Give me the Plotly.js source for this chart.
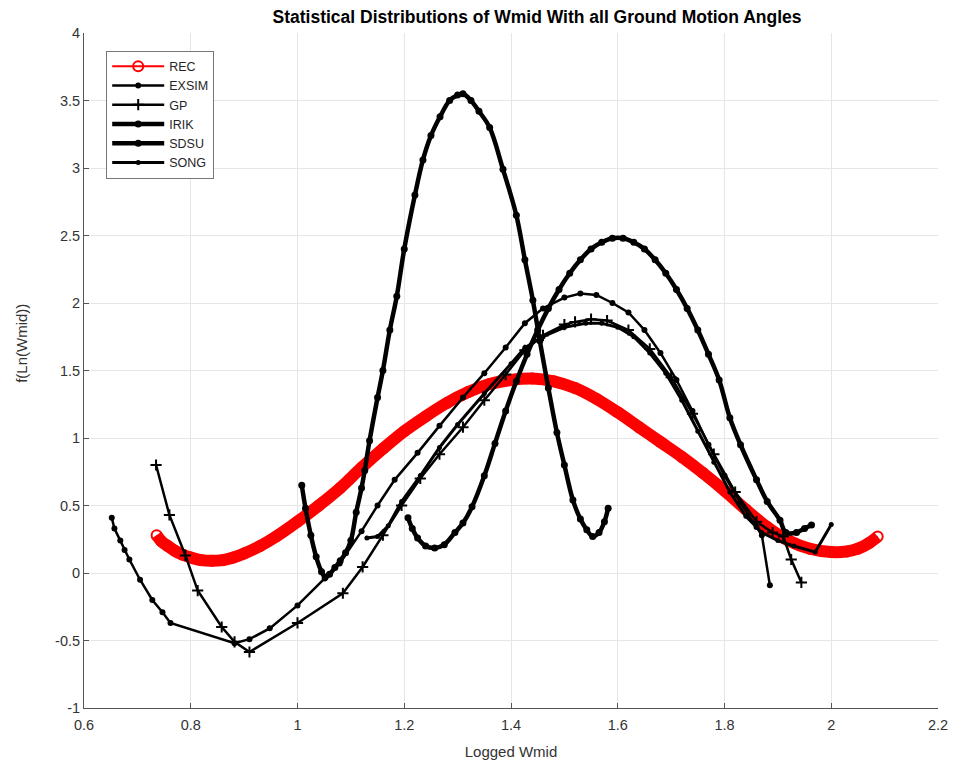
<!DOCTYPE html>
<html>
<head>
<meta charset="utf-8">
<script src="https://cdn.plot.ly/plotly-3.0.1.min.js"></script>
<style>html,body{margin:0;padding:0;background:#fff;}#chart{width:959px;height:772px;}</style>
</head>
<body>
<div id="chart"></div>
<script>
// ---- data ----
const recX = [0.736,0.745,0.757,0.77,0.785,0.80,0.82,0.84,0.86,0.88,0.90,0.93,0.96,1.00,1.04,1.08,1.12,1.16,1.20,1.24,1.28,1.32,1.36,1.40,1.44,1.48,1.52,1.56,1.60,1.64,1.68,1.72,1.76,1.80,1.84,1.88,1.92,1.96,2.00,2.03,2.05,2.07,2.087];
const recY = [0.28,0.235,0.2,0.165,0.135,0.115,0.095,0.09,0.095,0.115,0.145,0.2,0.27,0.38,0.5,0.63,0.78,0.92,1.05,1.16,1.26,1.34,1.40,1.43,1.44,1.42,1.37,1.29,1.19,1.08,0.97,0.86,0.74,0.61,0.47,0.34,0.24,0.18,0.155,0.16,0.18,0.22,0.27];

const exsimX = [0.652,0.657,0.668,0.676,0.685,0.705,0.728,0.747,0.762,0.882,0.91,0.948,1.0,1.051,1.079,1.12,1.15,1.182,1.225,1.266,1.31,1.35,1.39,1.426,1.46,1.50,1.53,1.56,1.59,1.62,1.65,1.68,1.71,1.74,1.77,1.80,1.83,1.86,1.87,1.885];
const exsimY = [0.41,0.33,0.24,0.17,0.10,-0.05,-0.2,-0.29,-0.37,-0.52,-0.49,-0.41,-0.24,-0.04,0.07,0.31,0.5,0.69,0.89,1.09,1.30,1.48,1.67,1.85,1.96,2.04,2.07,2.06,2.0,1.93,1.8,1.63,1.43,1.2,0.95,0.72,0.52,0.34,0.28,-0.09];

const gpX = [0.735,0.76,0.79,0.813,0.858,0.882,0.91,1.0,1.085,1.122,1.16,1.195,1.23,1.266,1.31,1.35,1.39,1.426,1.46,1.50,1.52,1.55,1.58,1.62,1.66,1.70,1.74,1.78,1.82,1.86,1.89,1.91,1.925,1.944];
const gpY = [0.80,0.43,0.13,-0.13,-0.4,-0.51,-0.585,-0.37,-0.15,0.045,0.28,0.5,0.7,0.88,1.08,1.28,1.47,1.65,1.76,1.84,1.86,1.88,1.87,1.8,1.66,1.45,1.18,0.88,0.6,0.38,0.3,0.27,0.1,-0.07];

const irikX = [1.008,1.015,1.025,1.035,1.045,1.052,1.06,1.07,1.08,1.09,1.10,1.11,1.12,1.126,1.135,1.15,1.16,1.173,1.186,1.20,1.22,1.235,1.25,1.267,1.285,1.30,1.31,1.325,1.34,1.36,1.385,1.41,1.426,1.441,1.454,1.47,1.486,1.50,1.516,1.53,1.542,1.553,1.565,1.575,1.582];
const irikY = [0.65,0.48,0.28,0.12,0.01,-0.03,-0.01,0.04,0.09,0.15,0.24,0.45,0.63,0.76,0.98,1.3,1.5,1.8,2.05,2.4,2.8,3.06,3.24,3.38,3.5,3.54,3.55,3.5,3.42,3.3,2.99,2.65,2.32,2.02,1.72,1.37,1.04,0.8,0.54,0.4,0.32,0.27,0.3,0.38,0.48];

const sdsuX = [1.207,1.215,1.225,1.24,1.257,1.275,1.295,1.31,1.327,1.35,1.37,1.39,1.41,1.43,1.45,1.47,1.49,1.51,1.53,1.55,1.57,1.59,1.61,1.63,1.65,1.67,1.69,1.71,1.73,1.75,1.77,1.79,1.81,1.83,1.86,1.88,1.904,1.915,1.935,1.95,1.963];
const sdsuY = [0.41,0.33,0.26,0.2,0.185,0.21,0.3,0.37,0.49,0.72,0.96,1.2,1.42,1.62,1.8,1.96,2.1,2.22,2.32,2.4,2.45,2.48,2.48,2.45,2.4,2.32,2.22,2.1,1.96,1.8,1.62,1.43,1.15,0.95,0.69,0.53,0.39,0.3,0.3,0.33,0.355];

const songX = [1.13,1.15,1.17,1.195,1.23,1.266,1.30,1.35,1.40,1.426,1.46,1.50,1.54,1.57,1.60,1.63,1.66,1.69,1.72,1.75,1.78,1.81,1.84,1.87,1.90,1.93,1.97,2.0];
const songY = [0.26,0.27,0.35,0.53,0.72,0.93,1.1,1.33,1.55,1.67,1.75,1.82,1.85,1.85,1.82,1.75,1.63,1.48,1.28,1.05,0.82,0.6,0.42,0.3,0.24,0.2,0.155,0.36];

const xTickVals = [0.6,0.8,1,1.2,1.4,1.6,1.8,2,2.2];
const xTickText = ['0.6','0.8','1','1.2','1.4','1.6','1.8','2','2.2'];
const yTickVals = [-1,-0.5,0,0.5,1,1.5,2,2.5,3,3.5,4];
const yTickText = ['-1','-0.5','0','0.5','1','1.5','2','2.5','3','3.5','4'];

// ---- traces ----
const traces = [
  {x:recX, y:recY, mode:'lines', line:{color:'#ff0000', width:12, shape:'spline'}, showlegend:false, hoverinfo:'skip', legendgroup:'rec'},
  {x:recX, y:recY, mode:'lines+markers', name:'REC', legendgroup:'rec',
   line:{color:'#ff0000', width:2, shape:'spline'},
   marker:{symbol:'circle-open', size:10, color:'#ff0000', line:{width:2, color:'#ff0000'}}},
  {x:exsimX, y:exsimY, mode:'lines+markers', name:'EXSIM', line:{color:'#000', width:2.5},
   marker:{symbol:'circle', size:6, color:'#000'}},
  {x:gpX, y:gpY, mode:'lines+markers', name:'GP', line:{color:'#000', width:2.5},
   marker:{symbol:'cross-thin', size:8, color:'#000', line:{width:2, color:'#000'}}},
  {x:irikX, y:irikY, mode:'lines+markers', name:'IRIK', line:{color:'#000', width:4.5, shape:'spline'},
   marker:{symbol:'circle', size:7, color:'#000'}},
  {x:sdsuX, y:sdsuY, mode:'lines+markers', name:'SDSU', line:{color:'#000', width:4.5, shape:'spline'},
   marker:{symbol:'circle', size:7, color:'#000'}},
  {x:songX, y:songY, mode:'lines+markers', name:'SONG', line:{color:'#000', width:3},
   marker:{symbol:'circle', size:5, color:'#000'}}
];

const font = 'Liberation Sans, Arial, Helvetica, sans-serif';
const layout = {
  width:959, height:772,
  margin:{l:84, r:21, t:33, b:64},
  paper_bgcolor:'#fff', plot_bgcolor:'#fff',
  font:{family:font, color:'#262626', size:14},
  title:{text:'<b>Statistical Distributions of Wmid With all Ground Motion Angles</b>',
         font:{family:font, size:17.5, color:'#000'}, x:0.56, xanchor:'center', y:0.978, yanchor:'middle'},
  xaxis:{range:[0.6,2.2], tickvals:xTickVals, ticktext:xTickText,
         showgrid:true, gridcolor:'#e6e6e6', gridwidth:1,
         showline:true, linecolor:'#555', linewidth:1, mirror:false,
         ticks:'inside', ticklen:5, tickcolor:'#555', zeroline:false,
         tickfont:{size:14.5, color:'#333'}, ticklabelstandoff:4,
         title:{text:'Logged Wmid', font:{size:15, color:'#333'}, standoff:14}},
  yaxis:{range:[-1,4], tickvals:yTickVals, ticktext:yTickText,
         showgrid:true, gridcolor:'#e6e6e6', gridwidth:1,
         showline:true, linecolor:'#555', linewidth:1, mirror:false,
         ticks:'inside', ticklen:5, tickcolor:'#555', zeroline:false,
         tickfont:{size:14.5, color:'#333'}},
  annotations:[{text:'f(Ln(Wmid))', textangle:-90, xref:'paper', yref:'paper',
                x:-0.0726, y:0.541, xanchor:'center', yanchor:'middle', showarrow:false,
                font:{family:font, size:15, color:'#333'}}],
  legend:{x:0.026, y:0.974, xanchor:'left', yanchor:'top',
          bgcolor:'#fff', bordercolor:'#777', borderwidth:1,
          font:{size:12.5, color:'#262626'}, tracegroupgap:0, itemwidth:52},
  showlegend:true
};

Plotly.newPlot('chart', traces, layout, {displayModeBar:false, staticPlot:true});
</script>
</body>
</html>
